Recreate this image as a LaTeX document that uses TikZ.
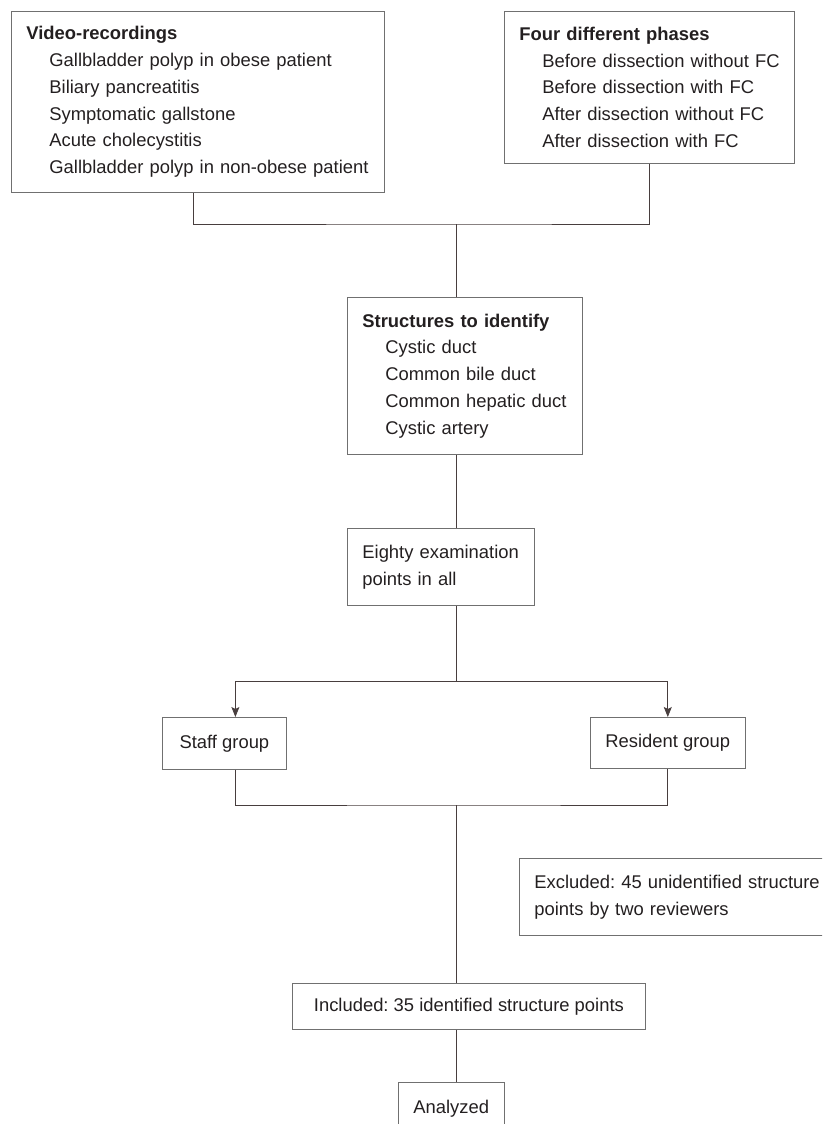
\documentclass[tikz,border=0pt]{standalone}
\usepackage{fontspec}
\setmainfont{Liberation Sans}
\usetikzlibrary{arrows.meta}

\definecolor{boxline}{RGB}{112,112,112}
\definecolor{linkline}{RGB}{72,62,62}
\definecolor{ink}{RGB}{35,31,32}
\newcommand{\itemind}{\hspace*{23pt}}
\frenchspacing

\begin{document}
\begin{tikzpicture}[x=1pt,y=-1pt]
\useasboundingbox (0,0) rectangle (822,1124);
\clip (0,0) rectangle (822,1124);

\begin{scope}[every node/.style={draw=boxline, line width=0.8pt, text=ink, anchor=north west,
  inner xsep=15pt, inner ysep=0pt, font=\fontsize{18.4}{26.7}\selectfont, align=left}]
\node[minimum width=373, minimum height=181, text width=343] (v) at (11,11)
  {\textbf{Video-recordings}\\
   \itemind Gallbladder polyp in obese patient\\
   \itemind Biliary pancreatitis\\
   \itemind Symptomatic gallstone\\
   \itemind Acute cholecystitis\\
   \itemind \mbox{Gallbladder polyp in non-obese patient}};
\node[minimum width=290, minimum height=152, text width=260] (ph) at (504,11)
  {\textbf{Four different phases}\\
   \itemind \mbox{Before dissection without FC}\\
   \itemind Before dissection with FC\\
   \itemind After dissection without FC\\
   \itemind After dissection with FC};
\node[minimum width=235, minimum height=157, text width=205] (st) at (347,297)
  {\textbf{Structures to identify}\\
   \itemind Cystic duct\\
   \itemind Common bile duct\\
   \itemind \mbox{Common hepatic duct}\\
   \itemind Cystic artery};
\node[minimum width=187, minimum height=77, text width=157] (e) at (347,528)
  {\mbox{Eighty examination}\\points in all};
\node[minimum width=124, minimum height=52, align=center] (sg) at (162,717) {Staff group};
\node[minimum width=154, minimum height=51, align=center] (rg) at (590,717) {Resident group};
\node[minimum width=340, minimum height=77, text width=310] (ex) at (519,858)
  {\mbox{Excluded: 45 unidentified structure}\\points by two reviewers};
\node[minimum width=353, minimum height=46, align=center] (in) at (292,983)
  {Included: 35 identified structure points};
\node[minimum width=105, minimum height=52, align=center] (an) at (398,1082) {Analyzed};
\end{scope}

\coordinate (j) at (456,224);
\coordinate (sp) at (456,681);
\coordinate (m) at (456,805);

\draw[linkline, line width=0.8pt]
([xshift=-4.5pt]v.south) |- (j) -| (ph.south)
(j) -- (j |- st.north)
(j |- st.south) -- (j |- e.north)
(j |- e.south) -- (sp)
;
\draw[linkline, line width=0.8pt, -{Stealth[length=10pt,width=8pt,inset=2pt]}]
(sp) -| ([xshift=11pt]sg.north);
\draw[linkline, line width=0.8pt, -{Stealth[length=10pt,width=8pt,inset=2pt]}]
(sp) -| (rg.north);
\draw[linkline, line width=0.8pt]
([xshift=11pt]sg.south) |- (m) -| (rg.south)
(m) -- (m |- in.north)
(m |- in.south) -- (m |- an.north)
;

\end{tikzpicture}
\end{document}
